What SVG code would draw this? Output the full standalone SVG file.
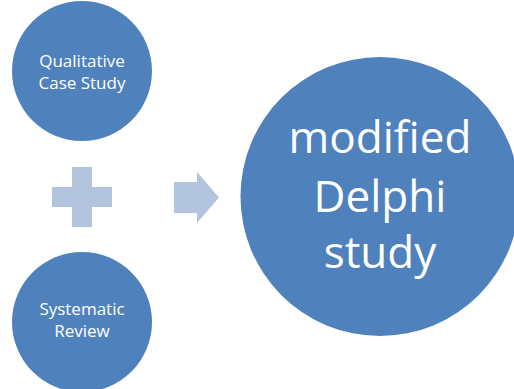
<svg xmlns="http://www.w3.org/2000/svg" width="514" height="389" viewBox="0 0 514 389">
<style>
.node{fill:#4F81BD}
.op{fill:#B3C4DF}
text{font-family:"Open Sans","Noto Sans",sans-serif;fill:#FFFFFF;text-anchor:middle}
.s{font-size:17px}
.b{font-size:44px}
</style>
<rect width="514" height="389" fill="#FFFFFF"/>
<g id="node-qualitative">
<circle class="node" cx="82" cy="71" r="70"/>
<text class="s" x="82" y="67">Qualitative</text>
<text class="s" x="82" y="89">Case Study</text>
</g>
<g id="node-systematic">
<circle class="node" cx="82" cy="322" r="70"/>
<text class="s" x="82" y="315">Systematic</text>
<text class="s" x="82" y="337">Review</text>
</g>
<g id="node-delphi">
<circle class="node" cx="380" cy="196.5" r="139.5"/>
<text class="b" x="380" y="153">modified</text>
<text class="b" x="380" y="212">Delphi</text>
<text class="b" x="380" y="268">study</text>
</g>
<g id="connectors">
<path class="op" d="M72 167H92V187H112V207H92V227H72V207H52V187H72Z"/>
<path class="op" d="M174 182H197V172L219 197.5L197 223V213H174Z"/>
</g>
</svg>
